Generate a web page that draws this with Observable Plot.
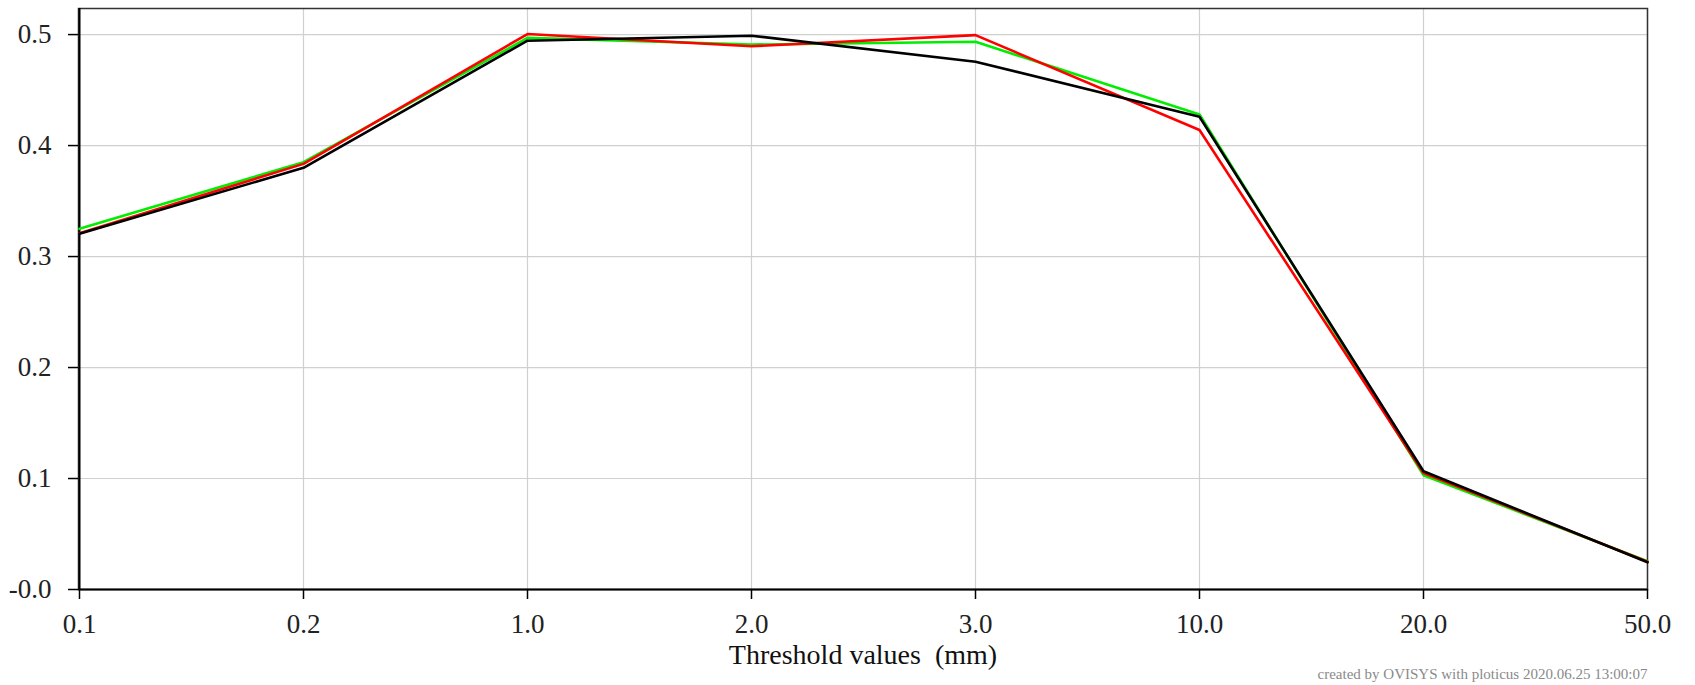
<!DOCTYPE html>
<html>
<head>
<meta charset="utf-8">
<script src="https://cdn.jsdelivr.net/npm/d3@7"></script>
<script src="https://cdn.jsdelivr.net/npm/@observablehq/plot@0.6"></script>
<style>
  html, body { margin: 0; padding: 0; background: #fff; }
  #chart svg { display: block; }
</style>
</head>
<body>
<div id="chart"></div>
<script>
// Threshold categories (mm), evenly spaced on the x axis
const categories = ["0.1", "0.2", "1.0", "2.0", "3.0", "10.0", "20.0", "50.0"];

// Series values
const series1Values = [0.325, 0.385, 0.497, 0.491, 0.4935, 0.428, 0.103, 0.0255];  // bright green
const series2Values = [0.321, 0.3835, 0.5005, 0.4895, 0.4995, 0.414, 0.105, 0.025]; // red
const series3Values = [0.3205, 0.380, 0.4945, 0.499, 0.4755, 0.426, 0.1065, 0.0245]; // black

const seriesNames  = ["Series 1", "Series 2", "Series 3"];
const seriesColors = ["#00ee00", "#ff0000", "#000000"];

// Axis ticks
const yTicks      = [0, 0.1, 0.2, 0.3, 0.4, 0.5];
const yTickLabels = ["-0.0", "0.1", "0.2", "0.3", "0.4", "0.5"];

const xLabel  = "Threshold values  (mm)";
const caption = "created by OVISYS with ploticus 2020.06.25 13:00:07";

const seriesValues = [series1Values, series2Values, series3Values];
const rows = seriesNames.flatMap((s, i) =>
  categories.map((c, j) => ({series: s, threshold: c, value: seriesValues[i][j]}))
);

const font = "'Liberation Serif', 'Times New Roman', serif";

const chart = Plot.plot({
  width: 1695,
  height: 685,
  marginLeft: 78,
  marginRight: 48,
  marginTop: 8,
  marginBottom: 96,
  style: {fontFamily: font, fontSize: "27px", color: "#222", background: "#fff"},
  x: {type: "point", domain: categories, padding: 0},
  y: {domain: [0, 0.5235]},
  color: {type: "ordinal", domain: seriesNames, range: seriesColors},
  marks: [
    Plot.gridX(categories, {stroke: "#d0d0d0", strokeOpacity: 1, strokeWidth: 1.2}),
    Plot.gridY(yTicks, {stroke: "#d0d0d0", strokeOpacity: 1, strokeWidth: 1.2}),
    Plot.frame({stroke: "#333", strokeWidth: 1.5}),
    Plot.ruleX([categories[0]], {stroke: "#000", strokeWidth: 2}),
    Plot.ruleY([0], {stroke: "#000", strokeWidth: 2}),
    Plot.axisX({ticks: categories, tickSize: 10, tickPadding: 14, label: null, fontSize: 27, stroke: "#000", strokeWidth: 1.5}),
    Plot.axisY({ticks: yTicks, tickFormat: (d) => yTickLabels[yTicks.indexOf(d)], tickSize: 10, tickPadding: 17, label: null, fontSize: 27, stroke: "#000", strokeWidth: 1.5}),
    Plot.line(rows, {x: "threshold", y: "value", z: "series", stroke: "series", strokeWidth: 2.6, strokeLinejoin: "miter"}),
    Plot.text([xLabel], {frameAnchor: "bottom", dy: 74, fontSize: 28, fill: "#111"}),
    Plot.text([caption], {frameAnchor: "bottom-right", dy: 89, textAnchor: "end", fontSize: 15, fill: "#8a8a8a"})
  ]
});

document.getElementById("chart").appendChild(chart);
</script>
</body>
</html>
